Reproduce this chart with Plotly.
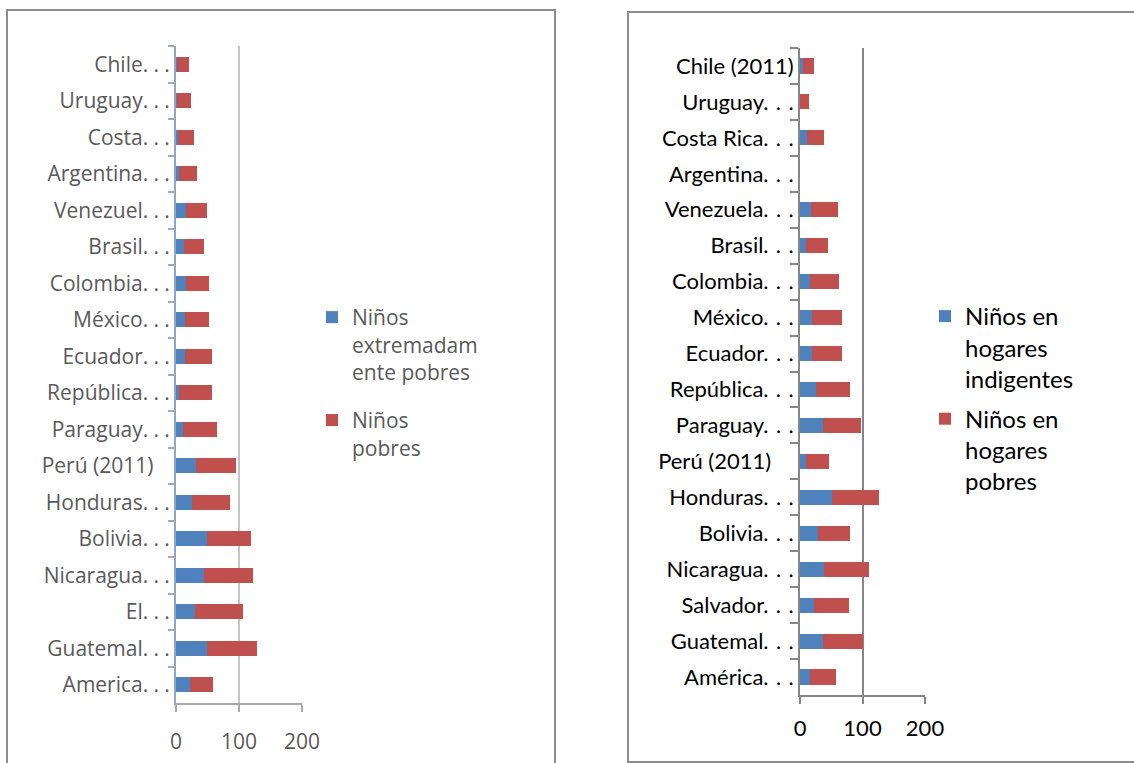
import plotly.graph_objects as go

NB = "\u00a0"
LE = ".\u2005.\u2005."   # spaced truncation dots as drawn on the left chart
RE = ".\u2004.\u2004."   # spaced truncation dots as drawn on the right chart

# ---------------- data (top-to-bottom order as displayed) ----------------
left_categories = ["Chile" + LE, "Uruguay" + LE, "Costa" + LE, "Argentina" + LE,
                   "Venezuel" + LE, "Brasil" + LE, "Colombia" + LE, "México" + LE,
                   "Ecuador" + LE, "República" + LE, "Paraguay" + LE,
                   "Perú (2011)" + NB * 3, "Honduras" + LE, "Bolivia" + LE,
                   "Nicaragua" + LE, "El" + LE, "Guatemal" + LE, "America" + LE]
left_extreme = [2, 2, 3, 5, 16, 13, 16, 15, 15, 5, 11, 32, 25, 49, 45, 30, 49, 23]
left_poor = [18, 22, 25, 28, 33, 32, 36, 37, 42, 52, 54, 64, 60, 70, 77, 77, 80, 36]
left_names = ["Niños<br>extremadam<br>ente pobres", "Niños<br>pobres"]

right_categories = ["Chile (2011)", "Uruguay" + RE, "Costa Rica" + RE, "Argentina" + RE,
                    "Venezuela" + RE, "Brasil" + RE, "Colombia" + RE, "México" + RE,
                    "Ecuador" + RE, "República" + RE, "Paraguay" + RE,
                    "Perú (2011)" + NB * 4, "Honduras" + RE, "Bolivia" + RE,
                    "Nicaragua" + RE, "Salvador" + RE, "Guatemal" + RE, "América" + RE]
right_indigent = [5, 0, 11, 0, 18, 10, 16, 19, 19, 26, 37, 9, 51, 28, 39, 22, 36, 16]
right_poor = [17, 14, 28, 0, 42, 35, 46, 48, 48, 54, 61, 37, 75, 52, 71, 56, 64, 42]
right_names = ["Niños en<br>hogares<br>indigentes", "Niños en<br>hogares<br>pobres"]

x_ticks = [0, 100, 200]

W, H = 1134, 763
BLUE = "#4F81BD"
RED = "#C0504D"

def px(x):
    return x / W

def py(y):
    return 1 - y / H

fig = go.Figure()

fig.add_trace(go.Bar(y=left_categories, x=left_extreme, orientation="h", name=left_names[0],
                     marker=dict(color=BLUE, line=dict(width=0)), xaxis="x", yaxis="y",
                     legend="legend", legendgroup="l1"))
fig.add_trace(go.Bar(y=left_categories, x=left_poor, orientation="h", name=left_names[1],
                     marker=dict(color=RED, line=dict(width=0)), xaxis="x", yaxis="y",
                     legend="legend", legendgroup="l2"))
fig.add_trace(go.Bar(y=right_categories, x=right_indigent, orientation="h", name=right_names[0],
                     marker=dict(color=BLUE, line=dict(width=0)), xaxis="x2", yaxis="y2",
                     legend="legend2", legendgroup="r1"))
fig.add_trace(go.Bar(y=right_categories, x=right_poor, orientation="h", name=right_names[1],
                     marker=dict(color=RED, line=dict(width=0)), xaxis="x2", yaxis="y2",
                     legend="legend2", legendgroup="r2"))

LFONT = dict(family="'Open Sans', Lato, sans-serif", size=21, color="#595959")
RFONT = dict(family="Lato, 'Open Sans', sans-serif", size=22, color="#000000")
RLEGFONT = dict(family="Lato, 'Open Sans', sans-serif", size=24, color="#000000")

common_x = dict(range=[0, 200], tickvals=x_ticks, showgrid=True, gridwidth=2,
                showline=True, linewidth=2, ticks="outside", ticklen=7, tickwidth=2,
                zeroline=False, fixedrange=True, automargin=False)
common_y = dict(type="category", autorange="reversed", showgrid=False, showline=True,
                linewidth=2, ticks="outside", tickson="boundaries", tickwidth=2,
                zeroline=False, fixedrange=True, automargin=False)

fig.update_layout(
    width=W, height=H, autosize=False,
    margin=dict(l=0, r=0, t=0, b=0, pad=0, autoexpand=False),
    paper_bgcolor="white", plot_bgcolor="white",
    barmode="stack", bargap=0.58,
    xaxis=dict(domain=[px(176), px(302)], anchor="y", gridcolor="#C4C4C4",
               linecolor="#A8A8A8", tickcolor="#A8A8A8", tickfont=LFONT,
               ticklabelstandoff=12, **common_x),
    yaxis=dict(domain=[py(703), py(46)], anchor="x", linecolor="#8FA6C4",
               tickcolor="#A8A8A8", ticklen=6, tickfont=LFONT, **common_y),
    xaxis2=dict(domain=[px(800), px(925)], anchor="y2", gridcolor="#868686",
                linecolor="#868686", tickcolor="#868686", tickfont=RFONT,
                ticklabelstandoff=6, **common_x),
    yaxis2=dict(domain=[py(695), py(48)], anchor="x2", linecolor="#868686",
                tickcolor="#868686", ticklen=8, tickfont=RFONT, **common_y),
    legend=dict(x=px(312), y=py(297), xanchor="left", yanchor="top", font=LFONT,
                traceorder="grouped", valign="top", tracegroupgap=18,
                bgcolor="rgba(0,0,0,0)"),
    legend2=dict(x=px(925), y=py(294), xanchor="left", yanchor="top", font=RLEGFONT,
                 traceorder="grouped", valign="top", tracegroupgap=6,
                 bgcolor="rgba(0,0,0,0)"),
    shapes=[
        dict(type="rect", xref="paper", yref="paper", x0=px(7), x1=px(555),
             y0=py(775), y1=py(10), line=dict(color="#8C8C8C", width=2),
             fillcolor="rgba(0,0,0,0)", layer="below"),
        dict(type="rect", xref="paper", yref="paper", x0=px(628), x1=px(1145),
             y0=py(762), y1=py(12), line=dict(color="#8C8C8C", width=2),
             fillcolor="rgba(0,0,0,0)", layer="below"),
    ],
)

fig.write_html("out.html",
               config={"displayModeBar": False},
               post_script="document.body.style.margin='0';"
                           "document.body.style.overflow='hidden';")
